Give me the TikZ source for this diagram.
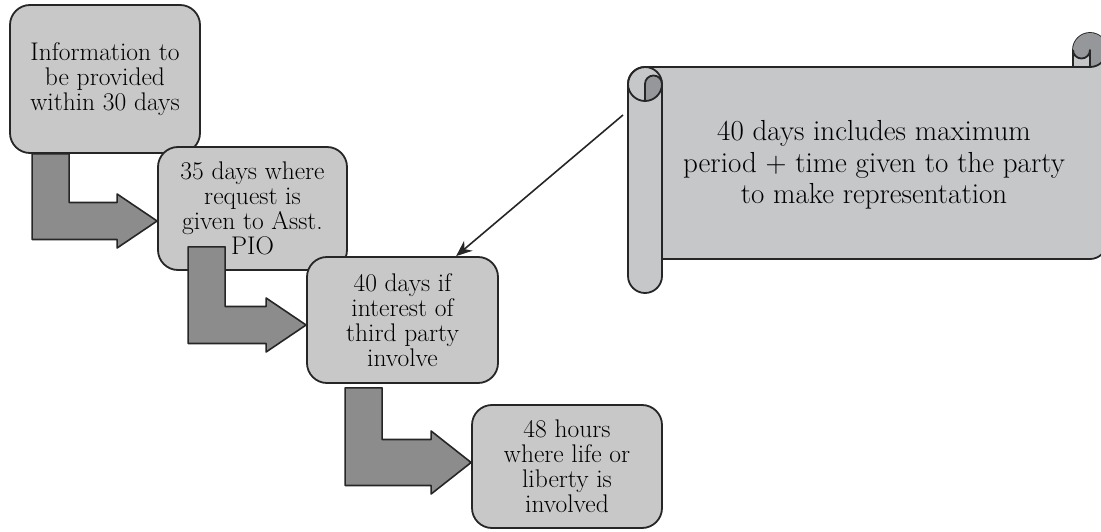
\documentclass[tikz,border=0pt]{standalone}
\usepackage{fontspec}
\usepackage{tikz}
\usetikzlibrary{arrows.meta, calc}
\definecolor{boxgray}{HTML}{C8C8C8}
\definecolor{arrowgray}{HTML}{8C8C8C}
\definecolor{scrollgray}{HTML}{C6C7C9}
\definecolor{curlgray}{HTML}{96979A}
\definecolor{lineclr}{HTML}{262626}

% bent block arrow: #1 top left of the shaft, #2 tip, #3 half shaft height
\newcommand{\bendarrow}[3]{%
  \draw[bentarr] (#1) -- ++(37,0) |- ($(#2)+(-40,#3)$) -- ++(0,8.5) -- (#2)
    -- ($(#2)+(-40,-#3-8.5)$) -- ++(0,8.5) -| (#1) -- cycle;}

\begin{document}
\begin{tikzpicture}[x=1pt, y=1pt, line width=1.8pt, line join=round,
  stepbox/.style={draw=lineclr, fill=boxgray, rounded corners=20pt, align=center,
    inner sep=0pt, font=\fontsize{25.5}{25}\selectfont},
  bentarr/.style={draw=lineclr, fill=arrowgray, line width=1.6pt},
  roll/.style={draw=lineclr, fill=scrollgray}]
  \useasboundingbox (0,0) rectangle (1101,531);

  % Bloky
  \node[stepbox, minimum width=190pt, minimum height=148pt] (info) at (105,452) {Information to\\be provided\\within 30 days};
  \node[stepbox, minimum width=189pt, minimum height=123pt] (asst) at (252.5,322.5) {35 days where\\request is\\given to Asst.\\PIO};
  \node[stepbox, minimum width=191pt, minimum height=126pt] (third) at (402.5,211) {40 days if\\interest of\\third party\\involve};
  \node[stepbox, minimum width=190pt, minimum height=123pt] (life) at (567,64.5) {48 hours\\where life or\\liberty is\\involved};

  % Lomene sipky
  \coordinate (a1s) at ($(info.south west)+(23,0)$);
  \coordinate (a1t) at ($(asst.west)+(0,-12.5)$);
  \coordinate (a2s) at ($(asst.south west)+(31,24)$);
  \coordinate (a2t) at ($(third.west)+(0,-5)$);
  \coordinate (a3s) at ($(third.south west)+(39,-4)$);
  \coordinate (a3t) at ($(life.west)+(0,4)$);
  \bendarrow{a1s}{a1t}{18.5}
  \bendarrow{a2s}{a2t}{18.5}
  \bendarrow{a3s}{a3t}{23}

  % Svitek
  \draw[roll] (628,447) arc[start angle=180, end angle=90, radius=17] -- (1073,464) -- (1073,481)
    arc[start angle=180, end angle=0, radius=17] -- (1107,289) arc[start angle=0, end angle=-90, radius=17]
    -- (662,272) -- (662,255) arc[start angle=0, end angle=-180, radius=17] -- cycle;
  \fill[curlgray] (1090,464) arc[start angle=-90, end angle=180, radius=17]
    arc[start angle=180, end angle=360, radius=8.5] -- cycle;
  \fill[curlgray] (645,430) arc[start angle=-90, end angle=0, radius=17]
    arc[start angle=0, end angle=180, radius=8.5] -- cycle;
  \draw[lineclr] (1073,464) -- (1090,464) arc[start angle=-90, end angle=0, radius=17];
  \draw[lineclr] (1090,464) -- (1090,481) arc[start angle=0, end angle=-180, radius=8.5];
  \draw[lineclr] (645,447) circle[radius=17];
  \draw[lineclr] (645,430) -- (645,447) arc[start angle=180, end angle=0, radius=8.5] -- (662,272);
  \node[align=center, font=\fontsize{29}{31.5}\selectfont] (note) at (874,366)
    {40 days includes maximum\\period + time given to the party\\to make representation};

  % Propojeni
  \coordinate (rollpt) at (623,416);
  \draw[-{Stealth[length=16pt, width=13pt]}, draw=lineclr, line width=1.6pt] (rollpt) -- (third.50);
\end{tikzpicture}
\end{document}
